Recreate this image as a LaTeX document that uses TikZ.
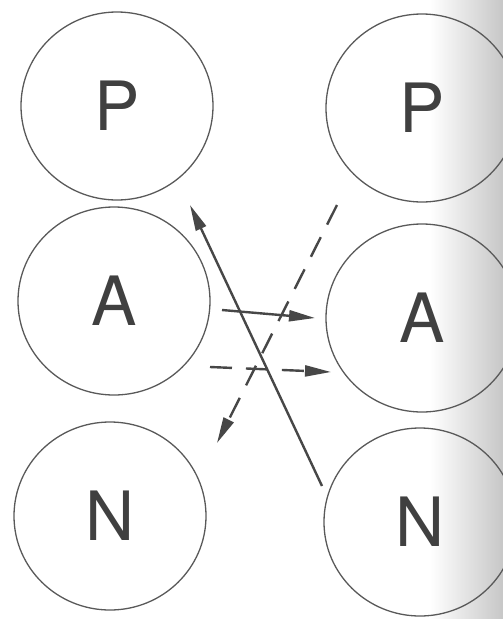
\documentclass[tikz,border=0pt]{standalone}
\usepackage{fontspec}
\setmainfont{TeX Gyre Heros}
\usetikzlibrary{shapes.geometric,arrows.meta}
\begin{document}
\begin{tikzpicture}[x=1pt,y=-1pt,
  bub/.style={draw=black!65, line width=1.3pt, ellipse, minimum width=192pt, minimum height=188pt, inner sep=0pt,
    font=\fontsize{68}{68}\selectfont, text=black!75},
  con/.style={draw=black!72, line width=2.4pt, -{Triangle[length=26pt,width=11pt]}},
  dsh/.style={con, dash pattern=on 22pt off 14pt}]
\useasboundingbox (0,0) rectangle (503,619);
\shade[left color=white, right color=black!22] (430,0) rectangle (503,619);
\node[bub] (lP) at (117,106) {P};
\node[bub] (lA) at (114,301) {A};
\node[bub] (lN) at (110,516) {N};
\node[bub] (rP) at (422,108) {P};
\node[bub] (rA) at (422,318) {A};
\node[bub] (rN) at (420,522) {N};
\coordinate (s1) at (322,486);
\coordinate (t1) at (190,205);
\coordinate (s2) at (222,310);
\coordinate (t2) at (315,318);
\coordinate (s3) at (210,367);
\coordinate (t3) at (331,372);
\coordinate (s4) at (337,205);
\coordinate (t4) at (217,443);
\draw[con] (s1) -- (t1);
\draw[con] (s2) -- (t2);
\draw[dsh] (s3) -- (t3);
\draw[dsh] (s4) -- (t4);
\end{tikzpicture}
\end{document}
